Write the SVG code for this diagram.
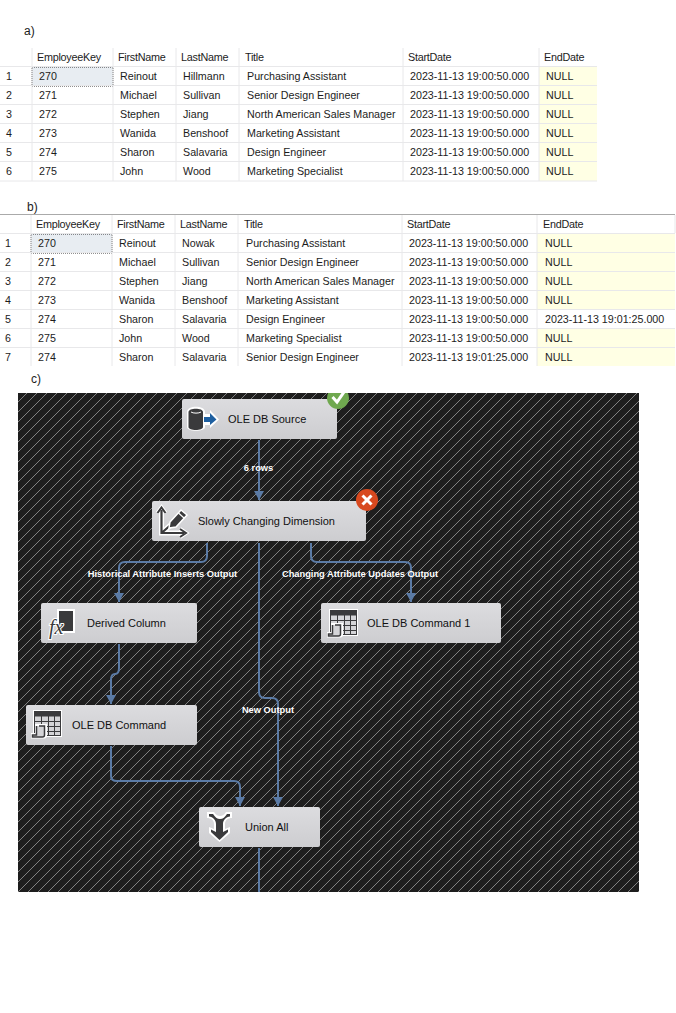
<svg xmlns="http://www.w3.org/2000/svg" width="676" height="1013" viewBox="0 0 676 1013">
<style>
text{font-family:"Liberation Sans",Arial,sans-serif;font-size:10.7px;fill:#1c1c1c}
.cap{font-size:12px}
.hd{font-size:10.8px;letter-spacing:-.25px}
.g{stroke:#e8e8ea;stroke-width:1;fill:none}
.nd{fill:url(#nf);stroke:none}
.nt{font-size:11px;fill:#111}
.lb{font-size:9.3px;font-weight:bold;fill:#fff}
.cn{fill:none;stroke:#5b7ba6;stroke-width:2}
.ic{fill:#3a3a3c}
.fx{font-family:"Liberation Serif",serif;font-style:italic;font-size:20px;fill:#3a3a3c;stroke:#fff;stroke-width:2;paint-order:stroke}
</style>
<defs>
<pattern id="h" width="10" height="10" patternUnits="userSpaceOnUse"><rect width="10" height="10" fill="#1e1e1e"/><path d="M-1 11L11 -1M-1 1L1 -1M9 11L11 9" stroke="#808080" stroke-width="1" shape-rendering="crispEdges"/></pattern>
<linearGradient id="nf" x1="0" y1="0" x2="0" y2="1"><stop offset="0" stop-color="#dcdcdf"/><stop offset="1" stop-color="#cdcdd0"/></linearGradient>
<marker id="a" markerUnits="userSpaceOnUse" markerWidth="10" markerHeight="10" refX="9" refY="5" orient="auto"><path d="M0 0L9 5L0 10Z" fill="#5b7ba6"/></marker>
<clipPath id="cv"><rect x="18" y="393" width="621" height="499"/></clipPath>
<g id="tbl">
<rect x="3" y="0" width="29" height="27" fill="#fff"/>
<rect x="4.500" y="1.500" width="26" height="24" fill="#d4d4d7" stroke="#3a3a3c"/>
<rect x="4.500" y="1.500" width="26" height="5" fill="#3a3a3c"/>
<path d="M4 11.500H31M4 16.500H31M4 21.500H31M11.500 6V26M18.500 6V26M24.500 6V26" stroke="#3a3a3c" stroke-width="1"/>
<path d="M5 14H17V26C17 29 14 28.500 12 28.500H1V23H5Z" fill="#fff"/>
<path d="M6.500 16V25H2.500V27H12.500C14 27 14.500 26 14.500 25V16H9" fill="#d4d4d7" stroke="#3a3a3c" stroke-width="1.500"/>
</g>
</defs>
<rect width="676" height="1013" fill="#fff"/>
<text class="cap" x="24" y="35">a)</text>
<g id="table-a">
<rect x="539" y="67" width="58" height="114" fill="#ffffe4"/>
<rect x="32" y="67" width="81" height="19" fill="#e8edf2" stroke="#222" stroke-dasharray="1 1"/>
<path class="g" d="M32 48V181M113 48V181M176 48V181M239 48V181M403 48V181M539 48V181M0 66.500H597M0 85.500H597M0 104.500H597M0 123.500H597M0 142.500H597M0 161.500H597M0 181H597"/>
<text class="hd" x="37" y="61">EmployeeKey</text><text class="hd" x="118" y="61">FirstName</text><text class="hd" x="181" y="61">LastName</text><text class="hd" x="245" y="61">Title</text><text class="hd" x="408" y="61">StartDate</text><text class="hd" x="544" y="61">EndDate</text>
<text x="6" y="80">1</text><text x="39" y="80">270</text><text x="120" y="80">Reinout</text><text x="183" y="80">Hillmann</text><text x="247" y="80">Purchasing Assistant</text><text x="410" y="80">2023-11-13 19:00:50.000</text><text x="546" y="80">NULL</text>
<text x="6" y="99">2</text><text x="39" y="99">271</text><text x="120" y="99">Michael</text><text x="183" y="99">Sullivan</text><text x="247" y="99">Senior Design Engineer</text><text x="410" y="99">2023-11-13 19:00:50.000</text><text x="546" y="99">NULL</text>
<text x="6" y="118">3</text><text x="39" y="118">272</text><text x="120" y="118">Stephen</text><text x="183" y="118">Jiang</text><text x="247" y="118">North American Sales Manager</text><text x="410" y="118">2023-11-13 19:00:50.000</text><text x="546" y="118">NULL</text>
<text x="6" y="137">4</text><text x="39" y="137">273</text><text x="120" y="137">Wanida</text><text x="183" y="137">Benshoof</text><text x="247" y="137">Marketing Assistant</text><text x="410" y="137">2023-11-13 19:00:50.000</text><text x="546" y="137">NULL</text>
<text x="6" y="156">5</text><text x="39" y="156">274</text><text x="120" y="156">Sharon</text><text x="183" y="156">Salavaria</text><text x="247" y="156">Design Engineer</text><text x="410" y="156">2023-11-13 19:00:50.000</text><text x="546" y="156">NULL</text>
<text x="6" y="175">6</text><text x="39" y="175">275</text><text x="120" y="175">John</text><text x="183" y="175">Wood</text><text x="247" y="175">Marketing Specialist</text><text x="410" y="175">2023-11-13 19:00:50.000</text><text x="546" y="175">NULL</text>
</g>
<text class="cap" x="27" y="211">b)</text>
<g id="table-b">
<path d="M0 214.500H675" stroke="#aaa" stroke-width="1"/>
<rect x="537" y="234" width="138" height="76" fill="#ffffe4"/><rect x="537" y="329" width="138" height="37" fill="#ffffe4"/>
<rect x="31" y="234" width="81" height="19" fill="#e8edf2" stroke="#222" stroke-dasharray="1 1"/>
<path class="g" d="M31 215V366M112 215V366M175 215V366M238 215V366M402 215V366M537 215V366M675 215V233M0 233.500H675M0 252.500H675M0 271.500H675M0 290.500H675M0 309.500H675M0 328.500H675M0 347.500H675"/>
<text class="hd" x="36" y="228">EmployeeKey</text><text class="hd" x="117" y="228">FirstName</text><text class="hd" x="180" y="228">LastName</text><text class="hd" x="244" y="228">Title</text><text class="hd" x="407" y="228">StartDate</text><text class="hd" x="543" y="228">EndDate</text>
<text x="5" y="247">1</text><text x="38" y="247">270</text><text x="119" y="247">Reinout</text><text x="182" y="247">Nowak</text><text x="246" y="247">Purchasing Assistant</text><text x="409" y="247">2023-11-13 19:00:50.000</text><text x="545" y="247">NULL</text>
<text x="5" y="266">2</text><text x="38" y="266">271</text><text x="119" y="266">Michael</text><text x="182" y="266">Sullivan</text><text x="246" y="266">Senior Design Engineer</text><text x="409" y="266">2023-11-13 19:00:50.000</text><text x="545" y="266">NULL</text>
<text x="5" y="285">3</text><text x="38" y="285">272</text><text x="119" y="285">Stephen</text><text x="182" y="285">Jiang</text><text x="246" y="285">North American Sales Manager</text><text x="409" y="285">2023-11-13 19:00:50.000</text><text x="545" y="285">NULL</text>
<text x="5" y="304">4</text><text x="38" y="304">273</text><text x="119" y="304">Wanida</text><text x="182" y="304">Benshoof</text><text x="246" y="304">Marketing Assistant</text><text x="409" y="304">2023-11-13 19:00:50.000</text><text x="545" y="304">NULL</text>
<text x="5" y="323">5</text><text x="38" y="323">274</text><text x="119" y="323">Sharon</text><text x="182" y="323">Salavaria</text><text x="246" y="323">Design Engineer</text><text x="409" y="323">2023-11-13 19:00:50.000</text><text x="545" y="323">2023-11-13 19:01:25.000</text>
<text x="5" y="342">6</text><text x="38" y="342">275</text><text x="119" y="342">John</text><text x="182" y="342">Wood</text><text x="246" y="342">Marketing Specialist</text><text x="409" y="342">2023-11-13 19:00:50.000</text><text x="545" y="342">NULL</text>
<text x="5" y="361">7</text><text x="38" y="361">274</text><text x="119" y="361">Sharon</text><text x="182" y="361">Salavaria</text><text x="246" y="361">Senior Design Engineer</text><text x="409" y="361">2023-11-13 19:01:25.000</text><text x="545" y="361">NULL</text>
</g>
<text class="cap" x="31" y="383">c)</text>
<rect id="canvas" x="18" y="393" width="621" height="499" fill="url(#h)"/>
<g id="connectors">
<path class="cn" marker-end="url(#a)" d="M259 440V500"/>
<path class="cn" marker-end="url(#a)" d="M207 543V556Q207 562 201 562H125Q119 562 119 568V602"/>
<path class="cn" marker-end="url(#a)" d="M311 543V556Q311 562 317 562H405Q411 562 411 568V602"/>
<path class="cn" d="M259 543V692Q259 698 265 698H272Q278 698 278 704V806" marker-end="url(#a)"/>
<path class="cn" marker-end="url(#a)" d="M119 644V668Q119 674 115 674Q111 674 111 680V704"/>
<path class="cn" marker-end="url(#a)" d="M111 746V776Q111 781 117 781H234Q240 781 240 787V806"/>
<path class="cn" d="M259 848V892"/>
<text class="lb" x="258.500" y="471" text-anchor="middle">6 rows</text>
<text class="lb" x="162.500" y="577" text-anchor="middle">Historical Attribute Inserts Output</text>
<text class="lb" x="360" y="577" text-anchor="middle">Changing Attribute Updates Output</text>
<text class="lb" x="268" y="713" text-anchor="middle">New Output</text>
</g>
<g id="ole-db-source">
<rect class="nd" x="182" y="399" width="155" height="40" rx="2"/>
<text class="nt" x="228" y="423">OLE DB Source</text>
<path d="M187 412C187 405 205 405 205 412V414H210V410L219 419.500L210 428V425H205V427C205 432 187 432 187 427Z" fill="#fff"/>
<path d="M188.500 412C188.500 407.500 203 407.500 203 412V427C203 431 188.500 431 188.500 427Z" class="ic"/>
<path d="M191 412C193 413.500 199 413.500 201 412" fill="none" stroke="#fff" stroke-width="1"/>
<path d="M204 417H210V413L216.500 419.500L210 425V422H204Z" fill="#1e5fa0"/>
<g clip-path="url(#cv)"><circle cx="338" cy="398" r="11" fill="#6fa84f"/><path d="M332.500 397L337 402L344 392" fill="none" stroke="#fff" stroke-width="3"/></g>
</g>
<g id="slowly-changing-dimension">
<rect class="nd" x="152" y="501" width="214" height="40" rx="2"/>
<text class="nt" x="198" y="525">Slowly Changing Dimension</text>
<path d="M161.500 510V533H184M161.500 533L173 523" fill="none" stroke="#fff" stroke-width="5"/>
<path d="M157.500 513L161.500 507.500L165.500 513M180 529L186 533L180 537" fill="none" stroke="#fff" stroke-width="4"/>
<path d="M161.500 510V533H184M161.500 533L173 523" fill="none" stroke="#3a3a3c" stroke-width="2.200"/>
<path d="M157.500 513L161.500 507.500L165.500 513M180 529L186 533L180 537" fill="none" stroke="#3a3a3c" stroke-width="2"/>
<path d="M170 522L181 510L187 515L176 527L169 528Z" fill="#3a3a3c" stroke="#fff" stroke-width="1.500"/>
<path d="M178.500 513L184 518" stroke="#fff" stroke-width="1.200"/>
<circle cx="367" cy="500" r="11" fill="#d8491f"/><path d="M362.500 495.500L371.500 504.500M371.500 495.500L362.500 504.500" stroke="#fff" stroke-width="3"/>
</g>
<g id="derived-column">
<rect class="nd" x="41" y="603" width="156" height="40" rx="2"/>
<text class="nt" x="87" y="627">Derived Column</text>
<rect x="58" y="610" width="16" height="22" fill="#3a3a3c" stroke="#fff" stroke-width="2"/>
<text class="fx" x="49" y="634">fx</text>
</g>
<g id="ole-db-command-1">
<rect class="nd" x="321" y="603" width="180" height="40" rx="2"/>
<text class="nt" x="367" y="627">OLE DB Command 1</text>
<use href="#tbl" x="326" y="609"/>
</g>
<g id="ole-db-command">
<rect class="nd" x="26" y="705" width="171" height="40" rx="2"/>
<text class="nt" x="72" y="729">OLE DB Command</text>
<use href="#tbl" x="30" y="710"/>
</g>
<g id="union-all">
<rect class="nd" x="199" y="807" width="121" height="40" rx="2"/>
<text class="nt" x="245" y="831">Union All</text>
<path d="M207 812H214C216 815 218 816 220 816C222 816 224 815 226 812H232V818C228 818 225 820 225 824V829L230 827V833L219.500 842L209 833V827L214 829V824C214 820 211 818 207 818Z" fill="#fff"/>
<path d="M209 814H213C215 817 217 819 220 819C223 819 225 817 227 814H230V816.500C226 817 223 820 223 824V832L228 829.500V832L219.500 840L211 832V829.500L216 832V824C216 820 213 817 209 816.500Z" fill="#3a3a3c"/>
</g>
</svg>
